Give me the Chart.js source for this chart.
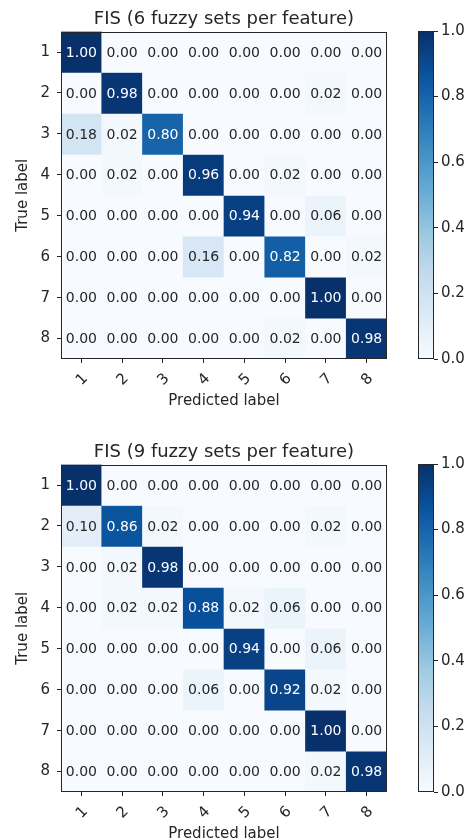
<!DOCTYPE html>
<html>
<head>
<meta charset="utf-8">
<script src="https://cdn.jsdelivr.net/npm/chart.js@4.4.0/dist/chart.umd.min.js"></script>
<style>
  html, body { margin: 0; padding: 0; background: #fff; overflow: hidden; }
  .wrap { position: relative; width: 466px; height: 840px; }
  canvas { position: absolute; }
</style>
</head>
<body>
<div class="wrap">
  <canvas id="cm1" width="400" height="410" style="left:0;top:0"></canvas>
  <canvas id="cb1" width="56" height="410" style="left:410px;top:0"></canvas>
  <canvas id="cm2" width="400" height="410" style="left:0;top:433px"></canvas>
  <canvas id="cb2" width="56" height="410" style="left:410px;top:433px"></canvas>
</div>
<script>
const classLabels = ['1', '2', '3', '4', '5', '6', '7', '8'];
const colorbarTicks = [0, 0.2, 0.4, 0.6, 0.8, 1.0];

const title6 = 'FIS (6 fuzzy sets per feature)';
const matrix6 = [
    [1.00, 0.00, 0.00, 0.00, 0.00, 0.00, 0.00, 0.00],
    [0.00, 0.98, 0.00, 0.00, 0.00, 0.00, 0.02, 0.00],
    [0.18, 0.02, 0.80, 0.00, 0.00, 0.00, 0.00, 0.00],
    [0.00, 0.02, 0.00, 0.96, 0.00, 0.02, 0.00, 0.00],
    [0.00, 0.00, 0.00, 0.00, 0.94, 0.00, 0.06, 0.00],
    [0.00, 0.00, 0.00, 0.16, 0.00, 0.82, 0.00, 0.02],
    [0.00, 0.00, 0.00, 0.00, 0.00, 0.00, 1.00, 0.00],
    [0.00, 0.00, 0.00, 0.00, 0.00, 0.02, 0.00, 0.98],
];

const title9 = 'FIS (9 fuzzy sets per feature)';
const matrix9 = [
    [1.00, 0.00, 0.00, 0.00, 0.00, 0.00, 0.00, 0.00],
    [0.10, 0.86, 0.02, 0.00, 0.00, 0.00, 0.02, 0.00],
    [0.00, 0.02, 0.98, 0.00, 0.00, 0.00, 0.00, 0.00],
    [0.00, 0.02, 0.02, 0.88, 0.02, 0.06, 0.00, 0.00],
    [0.00, 0.00, 0.00, 0.00, 0.94, 0.00, 0.06, 0.00],
    [0.00, 0.00, 0.00, 0.06, 0.00, 0.92, 0.02, 0.00],
    [0.00, 0.00, 0.00, 0.00, 0.00, 0.00, 1.00, 0.00],
    [0.00, 0.00, 0.00, 0.00, 0.00, 0.00, 0.02, 0.98],
];

// matplotlib "Blues" colormap stops
const blues = ['#f7fbff', '#deebf7', '#c6dbef', '#9ecae1', '#6baed6',
               '#4292c6', '#2171b5', '#08519c', '#08306b'];

const textDark = '#262626';
const frameColor = '#262626';

Chart.defaults.font.family = "'DejaVu Sans', sans-serif";
Chart.defaults.font.size = 15;
Chart.defaults.color = textDark;

function hexToRgb(h) {
    return [1, 3, 5].map(i => parseInt(h.substr(i, 2), 16));
}

function bluesColor(v) {
    const t = Math.max(0, Math.min(1, v)) * (blues.length - 1);
    const i = Math.min(Math.floor(t), blues.length - 2);
    const f = t - i;
    const a = hexToRgb(blues[i]);
    const b = hexToRgb(blues[i + 1]);
    const c = a.map((x, k) => Math.round(x + (b[k] - x) * f));
    return `rgb(${c[0]}, ${c[1]}, ${c[2]})`;
}

// outline the plot area like matplotlib spines
const framePlugin = {
    id: 'frame',
    afterDatasetsDraw(chart) {
        const { ctx, chartArea } = chart;
        ctx.save();
        ctx.strokeStyle = frameColor;
        ctx.lineWidth = 1;
        ctx.strokeRect(Math.round(chartArea.left) + 0.5, Math.round(chartArea.top) + 0.5,
            Math.round(chartArea.right - chartArea.left) - 1, Math.round(chartArea.bottom - chartArea.top) - 1);
        ctx.restore();
    }
};

// write the value in each cell
const cellTextPlugin = {
    id: 'cellText',
    afterDatasetsDraw(chart) {
        const { ctx } = chart;
        ctx.save();
        ctx.font = "14px 'DejaVu Sans', sans-serif";
        ctx.textAlign = 'center';
        ctx.textBaseline = 'middle';
        chart.data.datasets.forEach((ds, r) => {
            const meta = chart.getDatasetMeta(r);
            meta.data.forEach((bar, c) => {
                const v = ds.values[c];
                const p = bar.getCenterPoint();
                ctx.fillStyle = v > 0.5 ? '#ffffff' : textDark;
                ctx.fillText(v.toFixed(2), p.x, p.y + 1);
            });
        });
        ctx.restore();
    }
};

function makeMatrix(id, title, matrix) {
    const datasets = matrix.map((row, r) => ({
        label: classLabels[r],
        values: row,
        data: row.map(() => [r + 0.5, r + 1.5]),
        backgroundColor: row.map(v => bluesColor(v)),
        borderWidth: 0,
        barPercentage: 1,
        categoryPercentage: 1,
        grouped: false,
    }));

    return new Chart(document.getElementById(id), {
        type: 'bar',
        data: { labels: classLabels, datasets: datasets },
        options: {
            responsive: false,
            animation: false,
            layout: { padding: { left: 0, right: 13, top: 0, bottom: 0 } },
            plugins: {
                legend: { display: false },
                tooltip: { enabled: false },
                title: {
                    display: true,
                    fullSize: false,
                    text: title,
                    color: textDark,
                    font: { size: 18, weight: 'normal' },
                    padding: { top: 9, bottom: 1 }
                }
            },
            scales: {
                x: {
                    type: 'category',
                    offset: true,
                    border: { display: false },
                    grid: { offset: false, drawOnChartArea: false, drawTicks: true, tickLength: 4, tickColor: frameColor },
                    ticks: { minRotation: 45, maxRotation: 45, padding: 7, labelOffset: 4, autoSkip: false },
                    title: { display: true, text: 'Predicted label', padding: { top: 0, bottom: 0 } },
                    afterFit: (scale) => { scale.height = 51; }
                },
                y: {
                    type: 'linear',
                    reverse: true,
                    min: 0.5,
                    max: classLabels.length + 0.5,
                    border: { display: false },
                    grid: { drawOnChartArea: false, drawTicks: true, tickLength: 4, tickColor: frameColor },
                    afterBuildTicks: (axis) => {
                        axis.ticks = classLabels.map((l, i) => ({ value: i + 1 }));
                    },
                    ticks: {
                        padding: 7,
                        callback: (v) => classLabels[Math.round(v) - 1]
                    },
                    title: { display: true, text: 'True label', padding: { top: 14, bottom: 0 } },
                    afterFit: (scale) => { scale.width = 61; }
                }
            }
        },
        plugins: [cellTextPlugin, framePlugin]
    });
}

function makeColorbar(id) {
    return new Chart(document.getElementById(id), {
        type: 'bar',
        data: {
            labels: [''],
            datasets: [{
                data: [[colorbarTicks[0], colorbarTicks[colorbarTicks.length - 1]]],
                borderWidth: 0,
                barPercentage: 1,
                categoryPercentage: 1,
                backgroundColor: (context) => {
                    const area = context.chart.chartArea;
                    if (!area) return blues[0];
                    const g = context.chart.ctx.createLinearGradient(0, area.bottom, 0, area.top);
                    blues.forEach((c, i) => g.addColorStop(i / (blues.length - 1), c));
                    return g;
                }
            }]
        },
        options: {
            responsive: false,
            animation: false,
            layout: { padding: { left: 8, right: 0, top: 31, bottom: 51 } },
            plugins: { legend: { display: false }, tooltip: { enabled: false } },
            scales: {
                x: { display: false },
                y: {
                    position: 'right',
                    min: 0,
                    max: 1,
                    border: { display: false },
                    grid: { drawOnChartArea: false, drawTicks: true, tickLength: 4, tickColor: frameColor },
                    afterBuildTicks: (axis) => {
                        axis.ticks = colorbarTicks.map(v => ({ value: v }));
                    },
                    ticks: { padding: 3, callback: (v) => v.toFixed(1) },
                    afterFit: (scale) => { scale.width = 32; }
                }
            }
        },
        plugins: [framePlugin]
    });
}

makeMatrix('cm1', title6, matrix6);
makeColorbar('cb1');
makeMatrix('cm2', title9, matrix9);
makeColorbar('cb2');
</script>
</body>
</html>
